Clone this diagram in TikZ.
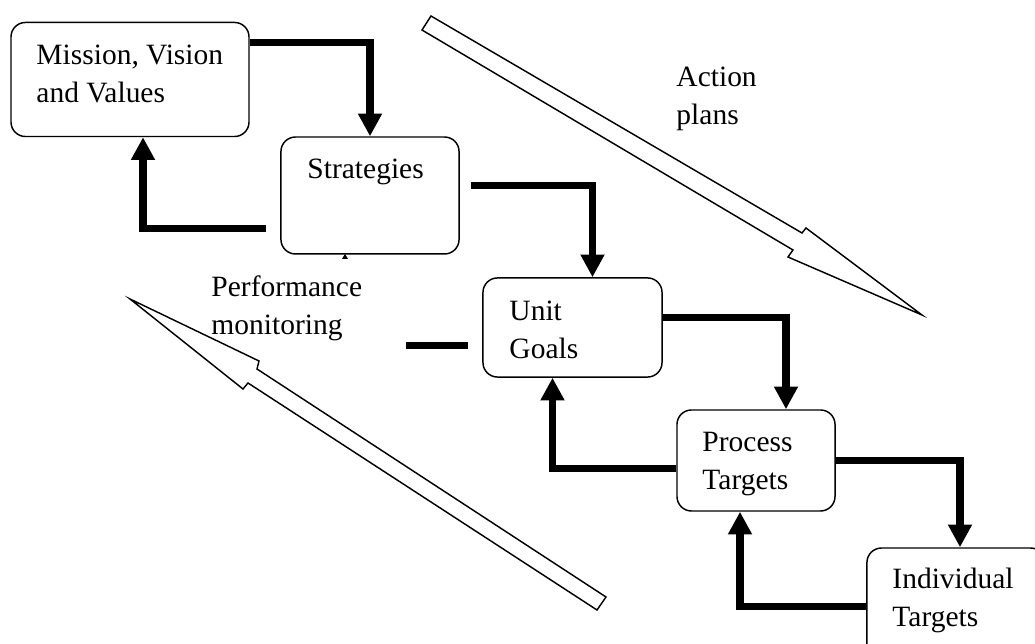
\documentclass[tikz,border=0pt,12pt]{standalone}
\usepackage{fontspec}
\setmainfont{Liberation Serif}
\usetikzlibrary{arrows.meta}

\begin{document}
\begin{tikzpicture}[x=0.4138pt, y=-0.4138pt,
    box/.style={draw, line width=0.6pt, rounded corners=6pt, inner sep=0pt},
    flow/.style={line width=2.9pt, -{Triangle[width=9.4pt, length=9.4pt]}},
    bar/.style={line width=2.9pt},
    hollow/.style={draw, line width=0.6pt, fill=white},
    txt/.style={anchor=base west, align=left, inner sep=0pt,
                font=\fontsize{12.2}{15.8}\selectfont}]
  \useasboundingbox (0,0) rectangle (1035,644);

  % Boxes
  \node[box, minimum width=98.5pt, minimum height=47.2pt] (mvv)   at (130,79.5)  {};
  \node[box, minimum width=73.7pt, minimum height=48.4pt] (strat) at (370,195.5) {};
  \node[box, minimum width=74.1pt, minimum height=41pt]   (unit)  at (572.5,327.5) {};
  \node[box, minimum width=65.4pt, minimum height=41.8pt] (proc)  at (756,460.5) {};
  \node[box, minimum width=73.7pt, minimum height=48.4pt] (ind)   at (956,606.5) {};

  % Box texts (base = last line)
  \node[txt] (mvvtxt)   at (36,103)  {Mission, Vision\\and Values};
  \node[txt] (strattxt) at (307,179) {Strategies};
  \node[txt] (unittxt)  at (509,359) {Unit\\Goals};
  \node[txt] (proctxt)  at (702,490) {Process\\Targets};
  \node[txt] (indtxt)   at (892,627) {Individual\\Targets};

  % Down the chain
  \draw[flow] ([shift={(0,21)}]mvv.north east) -| (strat.north);
  \draw[flow] ([shift={(11,-10)}]strat.east) -| ([shift={(20,0)}]unit.north);
  \draw[flow] ([shift={(0,-10)}]unit.east) -| ([shift={(30,0)}]proc.north);
  \draw[flow] (proc.east) -| ([shift={(4,0)}]ind.north);

  % Back up the chain
  \draw[flow] ([shift={(-14,-26)}]strat.south west) -| ([shift={(13,0)}]mvv.south);
  \draw[flow] ([shift={(0,8)}]proc.west) -| ([shift={(-20,0)}]unit.south);
  \draw[flow] (ind.west) -| ([shift={(-16,0)}]proc.south);
  \draw[bar] ([shift={(-76,18)}]unit.west) -- ([shift={(-14,18)}]unit.west);
  \fill (342,259) -- (345,254) -- (348,259) -- cycle;

  % Big hollow arrows
  \draw[hollow] (431,16) -- (802,233) -- (806,228) -- (922,315) -- (788,257)
    -- (793,250) -- (422,30) -- cycle;
  \draw[hollow] (130,299) -- (259,361) -- (257,369) -- (606,597) -- (597,610)
    -- (248,383) -- (243,389) -- cycle;
  \node[txt] (acttxt)  at (676,125) {Action\\plans};
  \node[txt] (perftxt) at (211,335) {Performance\\monitoring};
\end{tikzpicture}
\end{document}
